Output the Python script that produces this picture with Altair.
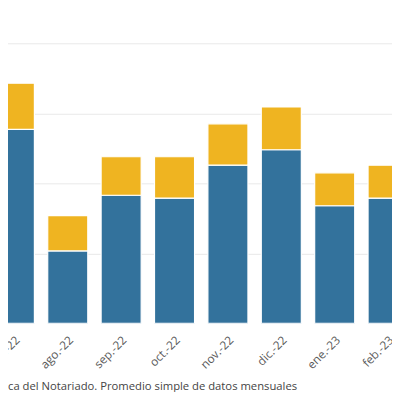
import altair as alt
import pandas as pd

months = ["jul.-22", "ago.-22", "sep.-22", "oct.-22", "nov.-22", "dic.-22", "ene.-23", "feb.-23"]
serie_a = [27.7, 10.35, 18.3, 17.9, 22.6, 24.8, 16.8, 17.9]   # blue (bottom)
serie_b = [6.6, 5.05, 5.5, 5.9, 5.9, 6.1, 4.7, 4.7]           # yellow (top)
footer = "ca del Notariado. Promedio simple de datos mensuales"

rows = []
for m, a, b in zip(months, serie_a, serie_b):
    rows.append({"mes": m, "serie": "A", "valor": a, "orden": 0})
    rows.append({"mes": m, "serie": "B", "valor": b, "orden": 1})
df = pd.DataFrame(rows)

W = 392
H = 318
step = 54.5
start = 6.5 - step / 2

chart = alt.Chart(df).mark_bar(stroke="white", strokeWidth=1.2, clip=True).encode(
    x=alt.X("mes:N", sort=months,
            scale=alt.Scale(range=[start, start + step * len(months)], paddingInner=0.25, paddingOuter=0.125),
            axis=alt.Axis(title=None, domain=False, ticks=False, labelAngle=-45,
                          labelColor="#595959", labelFontSize=12, labelFont="Open Sans",
                          labelPadding=11, labelOverlap=False)),
    y=alt.Y("valor:Q", stack="zero",
            scale=alt.Scale(domain=[0, H / 7.15], nice=False, zero=True),
            axis=alt.Axis(title=None, domain=False, ticks=False, labels=False,
                          values=[10, 20, 30, 40], gridColor="#e8e8e8", gridWidth=1)),
    color=alt.Color("serie:N", scale=alt.Scale(domain=["A", "B"], range=["#33729c", "#efb421"]), legend=None),
    order=alt.Order("orden:Q", sort="ascending"),
).properties(
    width=W, height=H,
    title=alt.TitleParams(footer, orient="bottom", anchor="start", frame="group", fontSize=11.5,
                          font="Open Sans", fontWeight="normal", color="#444444", offset=11),
    autosize=alt.AutoSizeParams(type="none"),
    padding={"left": 0, "top": 0, "right": 0, "bottom": 66},
).configure_view(stroke=None)

chart.save("out.html", embed_options={"renderer": "svg", "actions": False})
